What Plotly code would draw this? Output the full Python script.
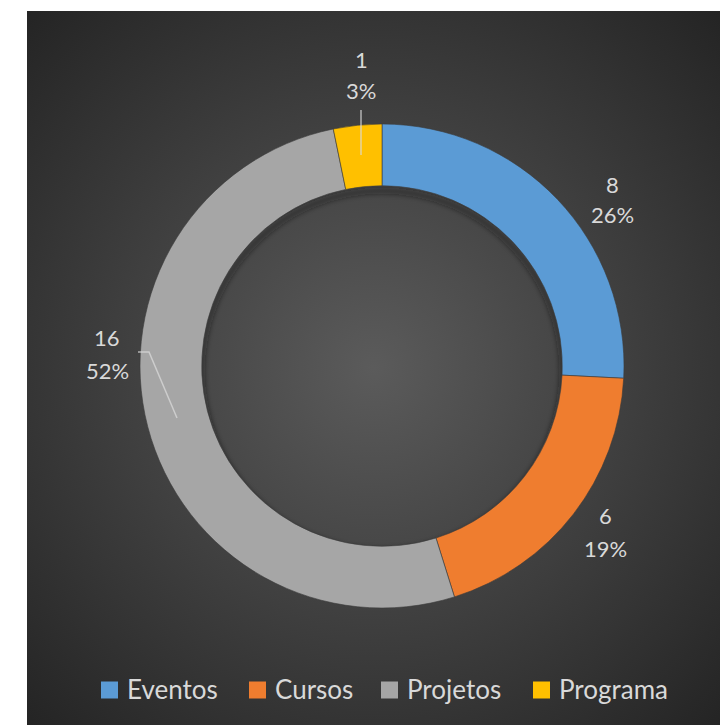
import base64
import plotly.graph_objects as go

# ---- data ----
categories = ["Eventos", "Cursos", "Projetos", "Programa"]
values = [8, 6, 16, 1]
colors = ["#5b9bd5", "#ef7d2f", "#a6a6a6", "#ffc000"]

W, H = 720, 725


def px(x):
    return x / W


def py(y):
    return 1 - y / H


# ---- donut geometry ----
CX, CY, R = 382, 366, 242
HOLE = 0.745

# ---- dark radial-gradient chart panel (with a soft shadow cast into the hole) ----
PANEL_X0, PANEL_Y0 = 27, 11
PW, PH = W - PANEL_X0, H - PANEL_Y0
hx, hy, hr = CX - PANEL_X0, CY - PANEL_Y0, R * HOLE
svg = f"""<svg xmlns='http://www.w3.org/2000/svg' width='{PW}' height='{PH}'>
<defs><radialGradient id='g' gradientUnits='userSpaceOnUse' cx='{PW/2}' cy='{PH/2}' r='{PW*0.72}'>
<stop offset='0' stop-color='#5b5b5b'/><stop offset='1' stop-color='#242424'/></radialGradient>
<filter id='b' x='-20%' y='-20%' width='140%' height='140%'><feGaussianBlur stdDeviation='2.5'/></filter>
<clipPath id='c'><circle cx='{hx}' cy='{hy}' r='{hr}'/></clipPath></defs>
<rect width='{PW}' height='{PH}' fill='url(#g)'/>
<g clip-path='url(#c)'><circle cx='{hx}' cy='{hy + 5}' r='{hr}' fill='none' stroke='#1a1a1a'
 stroke-opacity='0.45' stroke-width='6' filter='url(#b)'/></g></svg>"""
bg_src = "data:image/svg+xml;base64," + base64.b64encode(svg.encode()).decode()

fig = go.Figure(
    go.Pie(
        labels=categories,
        values=values,
        hole=HOLE,
        sort=False,
        direction="clockwise",
        rotation=0,
        marker=dict(colors=colors, line=dict(color="#3a3a3a", width=0.6)),
        textinfo="none",
        hoverinfo="label+value+percent",
        showlegend=False,
        domain=dict(x=[px(CX - R), px(CX + R)], y=[py(CY + R), py(CY - R)]),
    )
)

# ---- data labels (value on one line, percent on the next) ----
total = sum(values)
label_pos = {
    "Eventos": (612, 184, 215),
    "Cursos": (605, 515, 548),
    "Projetos": (107, 337, 370),
    "Programa": (361, 60, 91),
}
label_color = "#d9d9d9"
annotations = []
for cat, val in zip(categories, values):
    x, y1, y2 = label_pos[cat]
    pct = round(100 * val / total)
    for txt, yy in ((str(val), y1), (f"{pct}%", y2)):
        annotations.append(dict(
            x=px(x), y=py(yy), xref="paper", yref="paper",
            text=txt, showarrow=False, xanchor="center", yanchor="middle",
            font=dict(family="Lato", size=22, color=label_color),
        ))

# ---- leader lines ----
leader = dict(color="rgba(217,217,217,0.75)", width=1.5)
shapes = [
    dict(type="line", xref="paper", yref="paper",
         x0=px(361), y0=py(110), x1=px(361), y1=py(155), line=leader),
    dict(type="path", xref="paper", yref="paper",
         path=f"M {px(138)},{py(352)} L {px(149)},{py(352)} L {px(177)},{py(418)}",
         line=leader),
]

# ---- legend (square swatch + name) ----
legend_sw = [101, 249, 381, 533]
LEG_Y = 690
for cat, col, x0 in zip(categories, colors, legend_sw):
    shapes.append(dict(type="rect", xref="paper", yref="paper",
                       x0=px(x0), x1=px(x0 + 17), y0=py(LEG_Y + 8.5), y1=py(LEG_Y - 8.5),
                       fillcolor=col, line=dict(width=0)))
    annotations.append(dict(
        x=px(x0 + 24), y=py(LEG_Y - 1), xref="paper", yref="paper",
        text=cat, showarrow=False, xanchor="left", yanchor="middle",
        font=dict(family="Lato", size=26, color=label_color),
    ))

fig.update_layout(
    width=W, height=H,
    margin=dict(l=0, r=0, t=0, b=0),
    paper_bgcolor="white",
    plot_bgcolor="white",
    images=[dict(source=bg_src, xref="paper", yref="paper",
                 x=px(PANEL_X0), y=py(PANEL_Y0), sizex=PW / W, sizey=PH / H,
                 xanchor="left", yanchor="top", sizing="stretch", layer="below")],
    shapes=shapes,
    annotations=annotations,
)

fig.write_html("out.html")
